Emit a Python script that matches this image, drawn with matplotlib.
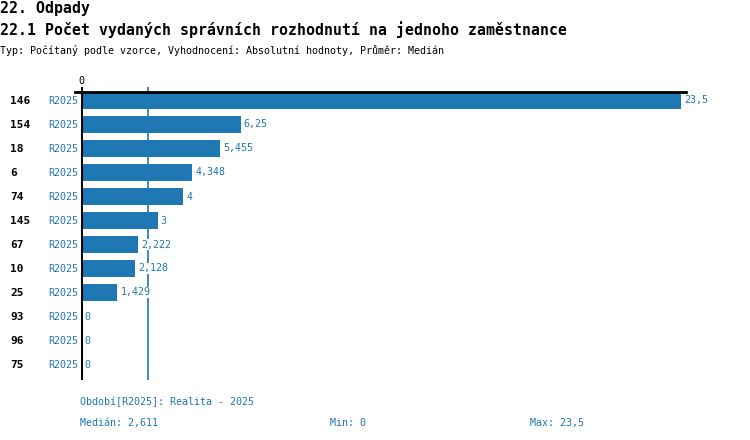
import numpy as np
import matplotlib
matplotlib.use('Agg')
from matplotlib import pyplot as plt

categories = ['146', '154', '18', '6', '74', '145', '67', '10', '25', '93', '96', '75']
values = [23.5, 6.25, 5.455, 4.348, 4, 3, 2.222, 2.128, 1.429, 0, 0, 0]
value_labels = ['23,5', '6,25', '5,455', '4,348', '4', '3', '2,222', '2,128', '1,429', '0', '0', '0']
period = 'R2025'
median = 2.611

BLUE = '#1f77b4'
MONO = 'DejaVu Sans Mono'

W, H = 750, 440
fig = plt.figure(figsize=(7.5, 4.4), dpi=100)


def px(x, y):
    return x / W, 1 - y / H


ax = fig.add_axes([81 / W, 1 - 380 / H, (686 - 81) / W, (380 - 87) / H])
y = np.arange(len(categories))
ax.barh(y, values, height=0.67, color=BLUE, zorder=2)
xmax = 23.5 * (686 - 81) / (681 - 81)
ax.set_xlim(0, xmax)
ax.set_ylim((380 - 100.5) / 24, (87 - 100.5) / 24)
ax.axis('off')

ax.axvline(median, color=BLUE, lw=1.2, zorder=1)
ax.axvline(0, color='black', lw=2.2, zorder=5)
ax.plot([-6 * xmax / 605, xmax], [(92 - 100.5) / 24] * 2, color='black', lw=2, zorder=5,
        clip_on=False)

for i, (cat, v, lab) in enumerate(zip(categories, values, value_labels)):
    ax.text(v + 0.12, i, lab, color=BLUE, fontsize=7.2, family=MONO, va='center', ha='left',
            zorder=4, bbox=dict(fc='white', ec='none', pad=0.6))
    yy = 100.5 + 24 * i
    fig.text(*px(10, yy), cat, fontsize=8, family=MONO, weight='bold', va='center', ha='left')
    fig.text(*px(78, yy), period, color=BLUE, fontsize=7.2, family=MONO, va='center', ha='right')

fig.text(*px(81, 81), '0', fontsize=7.2, family=MONO, va='center', ha='center')

fig.text(*px(0, 9), '22. Odpady', fontsize=10.7, family=MONO, weight='bold', va='center')
fig.text(*px(0, 30), '22.1 Počet vydaných správních rozhodnutí na jednoho zaměstnance',
         fontsize=10.7, family=MONO, weight='bold', va='center')
fig.text(*px(0, 50), 'Typ: Počítaný podle vzorce, Vyhodnocení: Absolutní hodnoty, Průměr: Medián',
         fontsize=7.2, family=MONO, va='center')

fig.text(*px(80, 402), 'Období[R2025]: Realita - 2025', color=BLUE, fontsize=7.2, family=MONO,
         va='center')
fig.text(*px(80, 423), 'Medián: 2,611', color=BLUE, fontsize=7.2, family=MONO, va='center')
fig.text(*px(330, 423), 'Min: 0', color=BLUE, fontsize=7.2, family=MONO, va='center')
fig.text(*px(530, 423), 'Max: 23,5', color=BLUE, fontsize=7.2, family=MONO, va='center')

fig.savefig('out.png', dpi=100)
